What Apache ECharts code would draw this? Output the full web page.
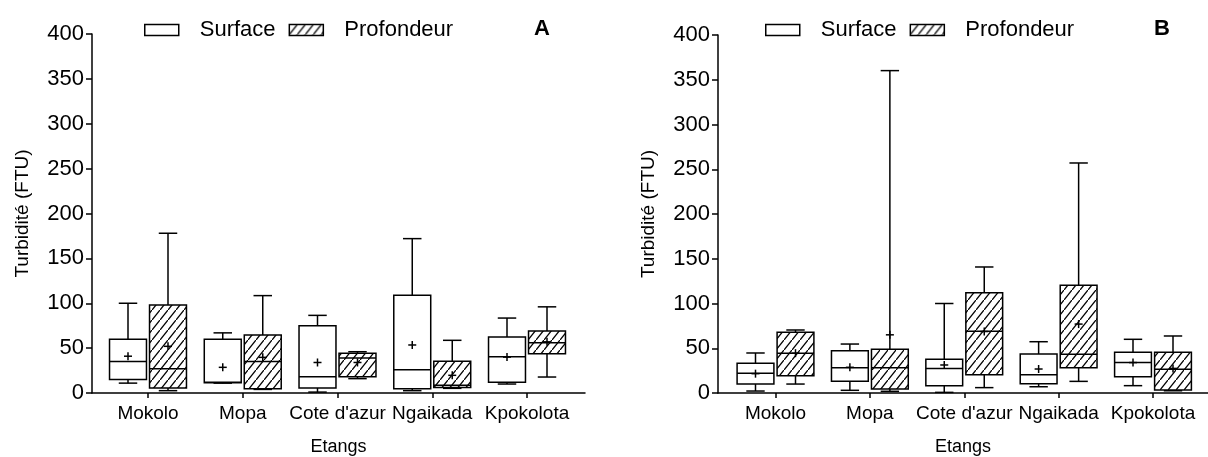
<!DOCTYPE html>
<html>
<head>
<meta charset="utf-8">
<script src="https://cdn.jsdelivr.net/npm/echarts@6/dist/echarts.min.js"></script>
<style>html,body{margin:0;padding:0;background:#fff}#c{width:1208px;height:457px}</style>
</head>
<body>
<div id="c"></div>
<script>
const categories = ['Mokolo', 'Mopa', "Cote d'azur", 'Ngaikada', 'Kpokolota'];
const yTicks = [0, 50, 100, 150, 200, 250, 300, 350, 400];
// each row: [min, q1, median, q3, max, mean]
const surfaceA = [
  [11, 15, 35, 60, 100, 41],
  [11, 11.5, 12, 60, 67, 28.6],
  [1, 5.6, 18, 75, 86.5, 34],
  [2.6, 4.8, 26, 109, 172, 53.5],
  [10, 12, 40.5, 62.5, 83.5, 40]
];
const profondeurA = [
  [2.6, 5.6, 27, 98, 178, 52],
  [4, 4.8, 35, 64.6, 108.5, 39.7],
  [16, 18, 39, 44.2, 46, 34],
  [5.2, 6, 8.5, 35.3, 58.7, 19.7],
  [17.8, 43.8, 56, 69, 96, 57]
];
const surfaceB = [
  [2.2, 10, 22, 33.2, 44.7, 21.6],
  [3, 13, 28.3, 47.3, 54.7, 28.7],
  [0.7, 8.2, 27.5, 37.6, 100, 31.3],
  [7, 10.4, 20.5, 43.6, 57.3, 26.8],
  [8.2, 18.2, 34, 45.4, 60, 34]
];
const profondeurB = [
  [10, 19.3, 44.3, 67.8, 70.4, 44.5],
  [1.9, 4.5, 28.3, 48.8, 360.2, 65],
  [6, 20.5, 68.9, 112, 140.8, 68.7],
  [13, 28.3, 43.2, 120.3, 257, 77],
  [2.5, 3.4, 26.5, 45.4, 63.7, 27.5]
];

// hatch pattern
function makeHatch() {
  const w = 8, h = 10;
  const cv = document.createElement('canvas');
  cv.width = w; cv.height = h;
  const ctx = cv.getContext('2d');
  ctx.fillStyle = '#fff';
  ctx.fillRect(0, 0, w, h);
  ctx.strokeStyle = '#000';
  ctx.lineWidth = 1.3;
  const s = h / w;
  ctx.beginPath();
  ctx.moveTo(-2, h + 2 * s);
  ctx.lineTo(w + 2, -2 * s);
  ctx.stroke();
  return cv;
}
const hatch = { image: makeHatch(), repeat: 'repeat' };

const FONT = 'Liberation Sans, Arial, sans-serif';

function rows(arr) { return arr.map((r, i) => [i].concat(r)); }

function makeRender(offset, fill) {
  return function (params, api) {
    const c = api.value(0);
    const vals = [1, 2, 3, 4, 5, 6].map(k => api.value(k));
    const pts = vals.map(v => api.coord([c + offset, v]));
    const xc = pts[0][0];
    const yMin = pts[0][1], yQ1 = pts[1][1], yMed = pts[2][1], yQ3 = pts[3][1], yMax = pts[4][1], yMean = pts[5][1];
    const bw = api.size([0.39, 0])[0];
    const cw = bw / 2;
    const ls = { stroke: '#000', lineWidth: 1.5, fill: null };
    const m = 4;
    return {
      type: 'group',
      children: [
        { type: 'line', shape: { x1: xc, y1: yMax, x2: xc, y2: yQ3 }, style: ls },
        { type: 'line', shape: { x1: xc - cw / 2, y1: yMax, x2: xc + cw / 2, y2: yMax }, style: ls },
        { type: 'line', shape: { x1: xc, y1: yQ1, x2: xc, y2: yMin }, style: ls },
        { type: 'line', shape: { x1: xc - cw / 2, y1: yMin, x2: xc + cw / 2, y2: yMin }, style: ls },
        { type: 'rect', shape: { x: xc - bw / 2, y: yQ3, width: bw, height: yQ1 - yQ3 },
          style: { fill: fill, stroke: '#000', lineWidth: 1.5 } },
        { type: 'line', shape: { x1: xc - bw / 2, y1: yMed, x2: xc + bw / 2, y2: yMed }, style: ls },
        { type: 'line', shape: { x1: xc - m, y1: yMean, x2: xc + m, y2: yMean }, style: ls },
        { type: 'line', shape: { x1: xc, y1: yMean - m, x2: xc, y2: yMean + m }, style: ls }
      ]
    };
  };
}

function xAxisCfg(gi, min, max) {
  return {
    type: 'value', gridIndex: gi, min: min, max: max,
    splitLine: { show: false },
    axisLine: { show: true, onZero: false, lineStyle: { color: '#000', width: 1.5 } },
    axisTick: { show: true, customValues: [0, 1, 2, 3, 4], length: 5, lineStyle: { color: '#000', width: 1.5 } },
    axisLabel: { show: true, customValues: [0, 1, 2, 3, 4], formatter: v => categories[Math.round(v)],
      color: '#000', fontFamily: FONT, fontSize: 19, margin: 11 },
    name: 'Etangs', nameLocation: 'middle', nameGap: 45,
    nameTextStyle: { color: '#000', fontFamily: FONT, fontSize: 18 }
  };
}
function yAxisCfg(gi) {
  return {
    type: 'value', gridIndex: gi, min: 0, max: 400, interval: 50,
    splitLine: { show: false },
    axisLine: { show: true, onZero: false, lineStyle: { color: '#000', width: 1.5 } },
    axisTick: { show: true, length: 6, lineStyle: { color: '#000', width: 1.5 } },
    axisLabel: { color: '#000', fontFamily: FONT, fontSize: 22, margin: 8,
      customValues: yTicks },
    name: 'Turbidité (FTU)', nameLocation: 'middle', nameGap: 60,
    nameTextStyle: { color: '#000', fontFamily: FONT, fontSize: 19 }
  };
}

function legendCfg(left) {
  return {
    left: left, top: 18, padding: 0, itemGap: 13, itemWidth: 34, itemHeight: 11,
    icon: 'rect', selectedMode: false,
    textStyle: { color: '#000', fontFamily: FONT, fontSize: 22, lineHeight: 24, padding: [0, 0, 0, 16] },
    data: [
      { name: 'Surface', itemStyle: { color: '#fff', borderColor: '#000', borderWidth: 1.5 } },
      { name: 'Profondeur', itemStyle: { color: hatch, borderColor: '#000', borderWidth: 1.5 } }
    ]
  };
}

const uA = (527 - 148) / 4, uB = (1153 - 775.5) / 4;
const option = {
  animation: false,
  backgroundColor: '#fff',
  title: [
    { text: 'A', left: 534, top: 18, padding: 0, textStyle: { fontFamily: FONT, fontSize: 22, fontWeight: 'bold', color: '#000' } },
    { text: 'B', left: 1154, top: 18, padding: 0, textStyle: { fontFamily: FONT, fontSize: 22, fontWeight: 'bold', color: '#000' } }
  ],
  legend: [legendCfg(144), legendCfg(765)],
  grid: [
    { left: 92, top: 34, width: 493, height: 359, outerBoundsMode: 'none', containLabel: false },
    { left: 718, top: 35, width: 490, height: 358, outerBoundsMode: 'none', containLabel: false }
  ],
  xAxis: [
    xAxisCfg(0, (92 - 148) / uA, 4 + (585 - 527) / uA),
    xAxisCfg(1, (718 - 775.5) / uB, 4 + (1208 - 1153) / uB)
  ],
  yAxis: [yAxisCfg(0), yAxisCfg(1)],
  series: [
    { name: 'Surface', type: 'custom', xAxisIndex: 0, yAxisIndex: 0, data: rows(surfaceA),
      encode: { x: 0, y: [1, 2, 3, 4, 5, 6] }, renderItem: makeRender(-20 / uA, '#fff') },
    { name: 'Profondeur', type: 'custom', xAxisIndex: 0, yAxisIndex: 0, data: rows(profondeurA),
      encode: { x: 0, y: [1, 2, 3, 4, 5, 6] }, renderItem: makeRender(20 / uA, hatch) },
    { name: 'Surface', type: 'custom', xAxisIndex: 1, yAxisIndex: 1, data: rows(surfaceB),
      encode: { x: 0, y: [1, 2, 3, 4, 5, 6] }, renderItem: makeRender(-20 / uB, '#fff') },
    { name: 'Profondeur', type: 'custom', xAxisIndex: 1, yAxisIndex: 1, data: rows(profondeurB),
      encode: { x: 0, y: [1, 2, 3, 4, 5, 6] }, renderItem: makeRender(20 / uB, hatch) }
  ]
};
const chart = echarts.init(document.getElementById('c'), null, { renderer: 'canvas' });
chart.setOption(option);
</script>
</body>
</html>
